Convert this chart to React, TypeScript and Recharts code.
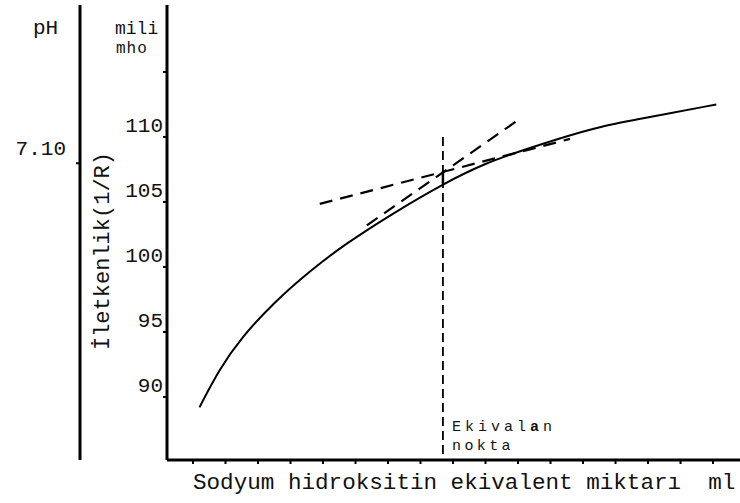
import {
  ComposedChart,
  Line,
  XAxis,
  YAxis,
  ReferenceLine,
  Customized,
} from "recharts";

// NaOH added (ml) vs conductivity (milimho)
const curveMl = [1.2, 1.8, 2.5, 3.5, 4.6, 5.7, 7.2, 8.7, 10.0, 11.3, 12.3, 13.5, 15.0, 17.1];
const curveCond = [89.2, 92.1, 94.6, 97.3, 99.7, 101.8, 104.2, 106.4, 108.0, 109.1, 109.9, 110.8, 111.5, 112.5];

// tangent of the late (flat) branch
const lateTangentMl = [4.9, 12.6];
const lateTangentCond = [104.85, 109.85];
// tangent of the early (steep) branch
const earlyTangentMl = [6.35, 11.12];
const earlyTangentCond = [103.2, 111.5];

const equivalenceMl = 8.69;
const equivalenceCurve = 106.4;
const equivalenceCross = 107.3;
const equivalenceTop = 110;

const mlTicks = [1, 2, 3, 4, 5, 6, 7, 8, 9, 10, 11, 12, 13, 14, 15, 16, 17];
const condTicks = [90, 95, 100, 105, 110, 115];
const condLabels = ["90", "95", "100", "105", "110", ""];
const phTicks = [7.1];
const phLabels = ["7.10"];

const curve = curveMl.map((ml, i) => ({ ml, cond: curveCond[i] }));
const lateTangent = lateTangentMl.map((ml, i) => ({ ml, cond: lateTangentCond[i] }));
const earlyTangent = earlyTangentMl.map((ml, i) => ({ ml, cond: earlyTangentCond[i] }));

const FONT = "'Liberation Mono', 'DejaVu Sans Mono', monospace";
const INK = "#111";

function CondTick(props: any) {
  const { x, y, payload } = props;
  const i = condTicks.indexOf(payload.value);
  return (
    <text x={x} y={y - 5} textAnchor="end" fontFamily={FONT} fontSize={21} fill={INK}>
      {condLabels[i] ?? ""}
    </text>
  );
}

function PhTick(props: any) {
  const { x, y, payload } = props;
  const i = phTicks.indexOf(payload.value);
  return (
    <text x={x} y={y - 8} textAnchor="end" fontFamily={FONT} fontSize={21} fill={INK}>
      {phLabels[i] ?? ""}
    </text>
  );
}

function Annotations() {
  return (
    <g fontFamily={FONT} fill={INK}>
      <text x={33} y={34} fontSize={21}>pH</text>
      <text x={115} y={34} fontSize={18}>mili</text>
      <text x={116} y={53} fontSize={16} letterSpacing={1}>mho</text>
      <text
        x={109}
        y={251}
        fontSize={22}
        textAnchor="middle"
        transform="rotate(-90 109 251)"
      >
        İletkenlik(1/R)
      </text>
      <text x={452} y={431} fontSize={15} letterSpacing={4}>
        Ekival<tspan fontWeight="bold">a</tspan>n
      </text>
      <text x={452} y={450} fontSize={15} letterSpacing={3.4}>nokta</text>
      <text x={193} y={489} fontSize={22.6} xmlSpace="preserve">
        Sodyum hidroksitin ekivalent miktarı  ml
      </text>
    </g>
  );
}

export default function App() {
  return (
    <div style={{ position: "absolute", left: 0, top: 0, background: "#fff" }}>
      <ComposedChart
        width={740}
        height={503}
        margin={{ top: 5, right: 0, bottom: 0, left: 0 }}
      >
        <XAxis
          dataKey="ml"
          type="number"
          domain={[0.2, 17.83]}
          allowDataOverflow
          ticks={mlTicks}
          tickFormatter={() => ""}
          height={43}
          tickSize={4}
          axisLine={{ stroke: "#000", strokeWidth: 3 }}
          tickLine={{ stroke: "#000", strokeWidth: 2 }}
        />
        <YAxis
          yAxisId="cond"
          type="number"
          domain={[85.15, 120.15]}
          allowDataOverflow
          ticks={condTicks}
          width={87}
          tickSize={4}
          tickMargin={0}
          tick={<CondTick />}
          axisLine={{ stroke: "#000", strokeWidth: 3 }}
          tickLine={{ stroke: "#000", strokeWidth: 2 }}
        />
        <YAxis
          yAxisId="ph"
          type="number"
          domain={[6.5, 7.42]}
          allowDataOverflow
          ticks={phTicks}
          width={80}
          tickSize={4}
          tickMargin={10}
          tick={<PhTick />}
          axisLine={{ stroke: "#000", strokeWidth: 3 }}
          tickLine={{ stroke: "#000", strokeWidth: 2 }}
        />
        <ReferenceLine
          yAxisId="cond"
          segment={[
            { x: equivalenceMl, y: equivalenceTop },
            { x: equivalenceMl, y: 85.15 },
          ]}
          stroke="#000"
          strokeWidth={1.8}
          strokeDasharray="9 5"
          ifOverflow="visible"
        />
        <ReferenceLine
          yAxisId="cond"
          segment={[
            { x: equivalenceMl, y: equivalenceCurve },
            { x: equivalenceMl, y: equivalenceCross },
          ]}
          stroke="#000"
          strokeWidth={2.5}
        />
        <Line
          yAxisId="cond"
          data={lateTangent}
          dataKey="cond"
          type="linear"
          stroke="#000"
          strokeWidth={2.2}
          strokeDasharray="13 8"
          dot={false}
          isAnimationActive={false}
        />
        <Line
          yAxisId="cond"
          data={earlyTangent}
          dataKey="cond"
          type="linear"
          stroke="#000"
          strokeWidth={2.2}
          strokeDasharray="13 8"
          dot={false}
          isAnimationActive={false}
        />
        <Line
          yAxisId="cond"
          data={curve}
          dataKey="cond"
          type="basis"
          stroke="#000"
          strokeWidth={2}
          dot={false}
          isAnimationActive={false}
        />
        <Customized component={<Annotations />} />
      </ComposedChart>
    </div>
  );
}
